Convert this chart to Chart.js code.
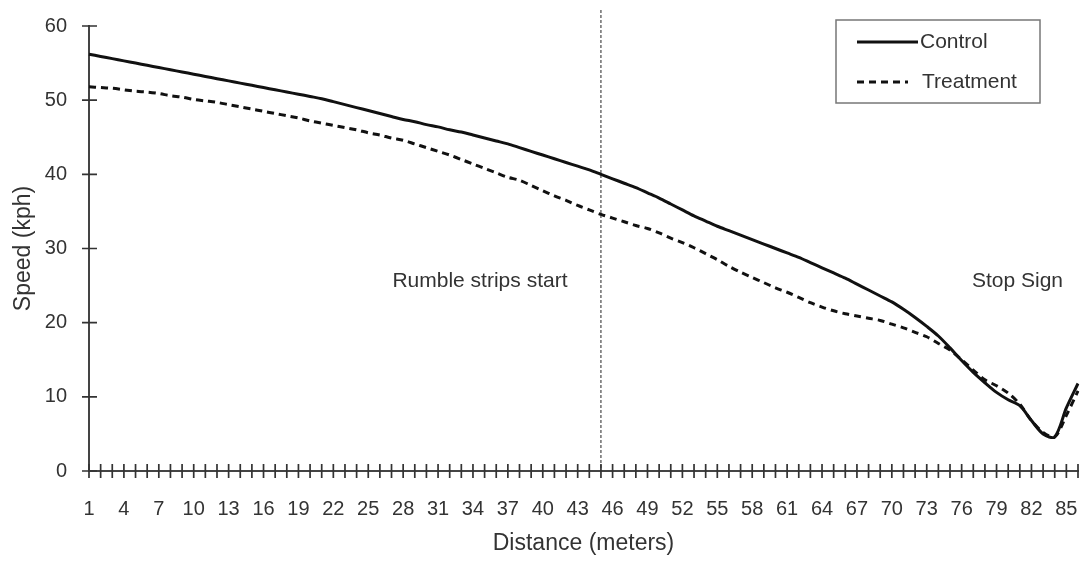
<!DOCTYPE html>
<html>
<head>
<meta charset="utf-8">
<script src="https://cdn.jsdelivr.net/npm/chart.js@4.4.1/dist/chart.umd.min.js"></script>
<style>
  html, body { margin: 0; padding: 0; background: #fff; }
  #wrap { width: 1080px; height: 561px; }
</style>
</head>
<body>
<div id="wrap"><canvas id="speedChart" width="1080" height="561"></canvas></div>
<script>
// distance in meters, 1..86
const distances = [
    1, 2, 3, 4, 5, 6, 7, 8, 9, 10, 11, 12, 13, 14, 15, 16, 17, 18, 19, 20,
    21, 22, 23, 24, 25, 26, 27, 28, 29, 30, 31, 32, 33, 34, 35, 36, 37, 38, 39, 40,
    41, 42, 43, 44, 45, 46, 47, 48, 49, 50, 51, 52, 53, 54, 55, 56, 57, 58, 59, 60,
    61, 62, 63, 64, 65, 66, 67, 68, 69, 70, 71, 72, 73, 74, 75, 76, 77, 78, 79, 80,
    81, 82, 83, 84, 85, 86
];

const controlSpeed = [
    56.2, 55.9, 55.6, 55.3, 55.0, 54.7, 54.4, 54.1, 53.8, 53.5,
    53.2, 52.9, 52.6, 52.3, 52.0, 51.7, 51.4, 51.1, 50.8, 50.5,
    50.2, 49.8, 49.4, 49.0, 48.6, 48.2, 47.8, 47.4, 47.1, 46.7,
    46.4, 46.0, 45.7, 45.3, 44.9, 44.5, 44.1, 43.6, 43.1, 42.6,
    42.1, 41.6, 41.1, 40.6, 40.0, 39.4, 38.8, 38.2, 37.5, 36.8,
    36.0, 35.2, 34.4, 33.7, 33.0, 32.4, 31.8, 31.2, 30.6, 30.0,
    29.4, 28.8, 28.1, 27.4, 26.7, 26.0, 25.2, 24.4, 23.6, 22.8,
    21.8, 20.7, 19.5, 18.2, 16.6, 14.9, 13.3, 11.9, 10.6, 9.6,
    8.8, 6.8, 5.0, 4.6, 8.5, 11.8
];

const treatmentSpeed = [
    51.8, 51.7, 51.6, 51.4, 51.2, 51.1, 50.9, 50.6, 50.4, 50.1,
    49.9, 49.7, 49.4, 49.1, 48.8, 48.5, 48.2, 47.9, 47.6, 47.2,
    46.9, 46.6, 46.3, 46.0, 45.6, 45.3, 44.9, 44.6, 44.1, 43.6,
    43.1, 42.6, 42.0, 41.4, 40.8, 40.2, 39.6, 39.2, 38.5, 37.8,
    37.1, 36.5, 35.8, 35.2, 34.6, 34.1, 33.6, 33.1, 32.7, 32.1,
    31.4, 30.8, 30.1, 29.3, 28.5, 27.6, 26.8, 26.1, 25.4, 24.7,
    24.1, 23.4, 22.7, 22.1, 21.6, 21.2, 20.9, 20.6, 20.3, 19.8,
    19.3, 18.7, 18.1, 17.2, 16.3, 15.0, 13.6, 12.3, 11.5, 10.5,
    9.0, 6.8, 5.2, 4.6, 7.5, 10.8
];

const yTicks = [0, 10, 20, 30, 40, 50, 60];
const rumbleStart = 45;     // meters
const notes = [
    { text: 'Rumble strips start', x: 34.6, y: 25.6 },
    { text: 'Stop Sign', x: 80.8, y: 25.6 }
];

const FONT = '"Liberation Sans", Arial, sans-serif';
const INK = '#333';

// ticks that cross the axis lines, like the old spreadsheet charts
const crossTicks = {
    id: 'crossTicks',
    afterDraw(chart) {
        const { ctx, scales: { x, y } } = chart;
        ctx.save();
        ctx.strokeStyle = '#333';
        ctx.lineWidth = 1.7;
        ctx.beginPath();
        distances.forEach((d, i) => {
            const px = x.getPixelForValue(i);
            ctx.moveTo(px, y.bottom - 7);
            ctx.lineTo(px, y.bottom + 7);
        });
        yTicks.forEach(v => {
            const py = y.getPixelForValue(v);
            ctx.moveTo(x.left - 7, py);
            ctx.lineTo(x.left + 8, py);
        });
        ctx.stroke();
        ctx.restore();
    }
};

// dashed marker where rumble strips start + the two notes
const markers = {
    id: 'markers',
    afterDatasetsDraw(chart) {
        const { ctx, chartArea, scales: { x, y } } = chart;
        ctx.save();
        const px = x.getPixelForValue(distances.indexOf(rumbleStart));
        ctx.strokeStyle = '#222';
        ctx.lineWidth = 1;
        ctx.setLineDash([3, 2]);
        ctx.beginPath();
        ctx.moveTo(px, chartArea.top - 16);
        ctx.lineTo(px, chartArea.bottom);
        ctx.stroke();
        ctx.setLineDash([]);

        ctx.fillStyle = INK;
        ctx.font = '21px ' + FONT;
        ctx.textAlign = 'center';
        ctx.textBaseline = 'middle';
        notes.forEach(n => {
            ctx.fillText(n.text, x.getPixelForValue(n.x - 1), y.getPixelForValue(n.y));
        });
        ctx.restore();
    }
};

// boxed legend in the top right corner
const boxLegend = {
    id: 'boxLegend',
    afterDraw(chart) {
        const { ctx, chartArea } = chart;
        const left = chartArea.right - 242, top = chartArea.top - 6;
        const w = 204, h = 83;
        ctx.save();
        ctx.fillStyle = '#fff';
        ctx.fillRect(left, top, w, h);
        ctx.strokeStyle = '#777';
        ctx.lineWidth = 1.5;
        ctx.strokeRect(left, top, w, h);

        ctx.font = '21px ' + FONT;
        ctx.textBaseline = 'middle';
        ctx.fillStyle = INK;
        chart.data.datasets.forEach((ds, i) => {
            const cy = top + 22 + i * 40;
            ctx.strokeStyle = ds.borderColor;
            ctx.lineWidth = ds.borderWidth;
            ctx.setLineDash(ds.borderDash || []);
            ctx.beginPath();
            ctx.moveTo(left + 21, cy);
            ctx.lineTo(left + (ds.borderDash ? 72 : 82), cy);
            ctx.stroke();
            ctx.setLineDash([]);
            ctx.fillText(ds.label, left + (ds.borderDash ? 86 : 84), cy);
        });
        ctx.restore();
    }
};

new Chart(document.getElementById('speedChart'), {
    type: 'line',
    data: {
        labels: distances,
        datasets: [{
            label: 'Control',
            data: controlSpeed,
            borderColor: '#111',
            borderWidth: 3,
            pointRadius: 0,
            tension: 0.3
        }, {
            label: 'Treatment',
            data: treatmentSpeed,
            borderColor: '#111',
            borderWidth: 3,
            borderDash: [7, 5],
            pointRadius: 0,
            tension: 0.3
        }]
    },
    options: {
        responsive: false,
        animation: false,
        layout: { padding: { top: 26, right: 2, left: 0, bottom: 0 } },
        scales: {
            x: {
                type: 'category',
                offset: false,
                grid: { display: false },
                border: { display: true, color: '#444', width: 2 },
                afterFit: s => { s.height = 90; s.paddingLeft = 0; s.paddingRight = 0; },
                ticks: {
                    autoSkip: false,
                    maxRotation: 0,
                    padding: 18,
                    color: INK,
                    font: { family: FONT, size: 20 },
                    callback: (v, i) => (i % 3 === 0 ? distances[i] : '')
                },
                title: {
                    display: true,
                    text: 'Distance (meters)',
                    color: INK,
                    font: { family: FONT, size: 23 },
                    padding: { top: 12 }
                }
            },
            y: {
                min: 0,
                max: 60,
                grid: { display: false },
                border: { display: true, color: '#444', width: 2 },
                afterFit: s => { s.width = 89; },
                afterBuildTicks: s => { s.ticks = yTicks.map(v => ({ value: v })); },
                ticks: {
                    padding: 14,
                    color: INK,
                    font: { family: FONT, size: 20 }
                },
                title: {
                    display: true,
                    text: 'Speed (kph)',
                    color: INK,
                    font: { family: FONT, size: 23 },
                    padding: { top: 10, bottom: 0 }
                }
            }
        },
        plugins: {
            legend: { display: false },
            tooltip: { enabled: false }
        }
    },
    plugins: [markers, crossTicks, boxLegend]
});
</script>
</body>
</html>
